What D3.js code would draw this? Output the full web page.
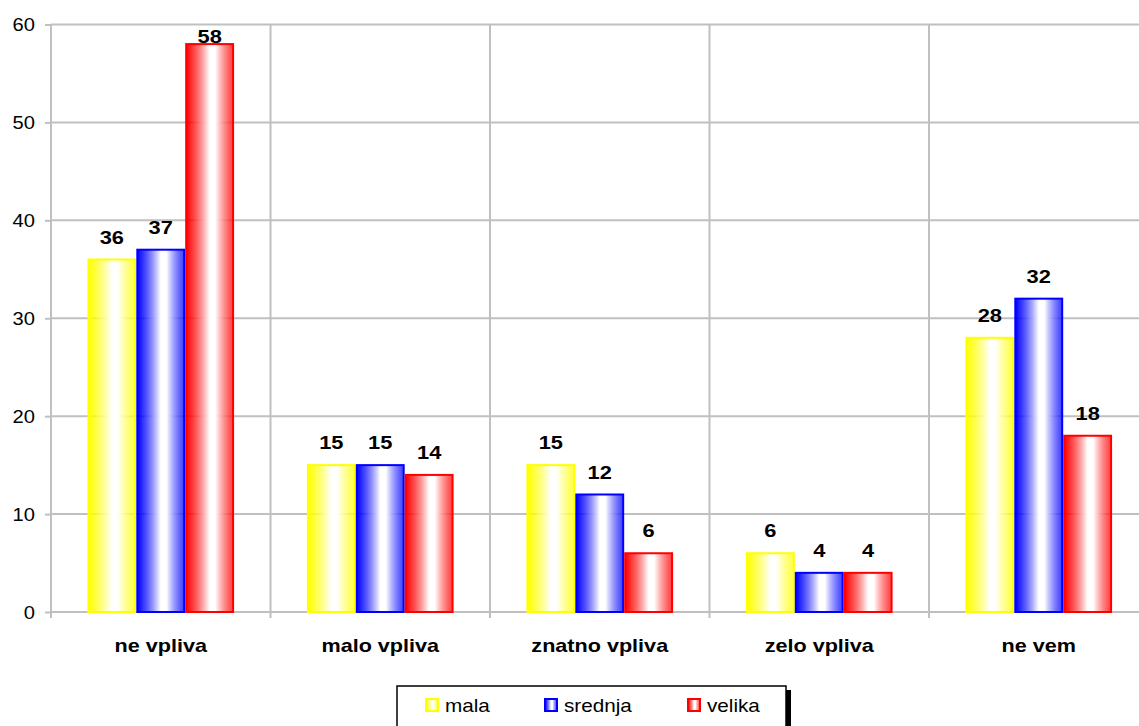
<!DOCTYPE html>
<html><head><meta charset="utf-8">
<script src="https://cdn.jsdelivr.net/npm/d3@7"></script>
<style>
html,body{margin:0;padding:0;background:#fff;}
svg{display:block;font-family:"Liberation Sans",Arial,sans-serif;}
</style></head>
<body>
<svg id="chart" width="1139" height="726"></svg>
<script>
const categories = ["ne vpliva", "malo vpliva", "znatno vpliva", "zelo vpliva", "ne vem"];
const seriesNames = ["mala", "srednja", "velika"];
const mala = [36, 15, 15, 6, 28];
const srednja = [37, 15, 12, 4, 32];
const velika = [58, 14, 6, 4, 18];
const seriesColors = ["#ffff00", "#0000ff", "#ff0000"];
const yTicks = [0, 10, 20, 30, 40, 50, 60];

(function () {
const values = [mala, srednja, velika];
const svg = d3.select("#chart");
const pLeft = 51, pRight = 1148.5, pTop = 24.5, pBottom = 612;
const SX = 1.15;

const x = d3.scaleBand().domain(categories).range([pLeft, pRight]);
const xs = d3.scaleBand().domain(seriesNames).range([0, x.bandwidth()]).paddingOuter(0.745).paddingInner(0);
const y = d3.scaleLinear().domain([0, 60]).range([pBottom, pTop]);

const defs = svg.append("defs");
seriesColors.forEach((c, i) => {
  const g = defs.append("linearGradient").attr("id", "grad" + i).attr("x1", "0%").attr("x2", "100%").attr("y1", "0%").attr("y2", "0%");
  g.append("stop").attr("offset", "0%").attr("stop-color", c).attr("stop-opacity", 1);
  g.append("stop").attr("offset", "12%").attr("stop-color", c).attr("stop-opacity", 0.8);
  g.append("stop").attr("offset", "50%").attr("stop-color", "#ffffff").attr("stop-opacity", 1);
  g.append("stop").attr("offset", "62%").attr("stop-color", "#ffffff").attr("stop-opacity", 1);
  g.append("stop").attr("offset", "100%").attr("stop-color", c).attr("stop-opacity", 0.75);
});

// gridlines
const grid = svg.append("g");
grid.selectAll("line.h").data(yTicks.filter(t => t > 0)).join("line")
  .attr("x1", pLeft).attr("x2", 1139).attr("y1", d => y(d)).attr("y2", d => y(d))
  .attr("stroke", "#c0c0c0").attr("stroke-width", 2);
grid.selectAll("line.v").data(categories.slice(1)).join("line")
  .attr("x1", d => x(d)).attr("x2", d => x(d)).attr("y1", pTop).attr("y2", pBottom + 6)
  .attr("stroke", "#c0c0c0").attr("stroke-width", 2);

// y axis
const yAxis = svg.append("g").attr("transform", `translate(${pLeft},0)`)
  .call(d3.axisLeft(y).tickValues(yTicks).tickSize(6).tickPadding(0).tickFormat(d3.format("d")));
yAxis.select(".domain").attr("stroke", "#c0c0c0").attr("stroke-width", 2).attr("d", `M0,${pTop}V${pBottom + 6}`);
yAxis.selectAll(".tick line").attr("stroke", "#c0c0c0").attr("stroke-width", 2);
yAxis.selectAll(".tick text").attr("font-size", 17.5).attr("fill", "#000")
  .attr("font-family", '"Liberation Sans",Arial,sans-serif')
  .attr("x", 0).attr("dy", null).attr("dominant-baseline", "central")
  .attr("transform", `translate(-16,0) scale(${SX},1)`);

// x axis
const xAxis = svg.append("g").attr("transform", `translate(0,${pBottom})`)
  .call(d3.axisBottom(x).tickSize(0).tickPadding(0));
xAxis.select(".domain").attr("stroke", "#c0c0c0").attr("stroke-width", 2).attr("d", `M${pLeft},0H1139`);
xAxis.selectAll(".tick text").attr("font-size", 18).attr("font-weight", "bold").attr("fill", "#000")
  .attr("font-family", '"Liberation Sans",Arial,sans-serif')
  .attr("y", 0).attr("dy", null)
  .attr("transform", `translate(0,40) scale(1.2,1)`);

// bars
seriesNames.forEach((s, si) => {
  const g = svg.append("g");
  g.selectAll("rect").data(categories).join("rect")
    .attr("x", d => x(d) + xs(s) + 1)
    .attr("width", xs.bandwidth() - 2)
    .attr("y", (d, i) => y(values[si][i]))
    .attr("height", (d, i) => y(0) - y(values[si][i]))
    .attr("fill", `url(#grad${si})`)
    .attr("stroke", seriesColors[si]).attr("stroke-width", 2);
  g.selectAll("text").data(categories).join("text")
    .attr("transform", (d, i) => `translate(${x(d) + xs(s) + xs.bandwidth() / 2},${Math.max(y(values[si][i]) - 16, 42.5)}) scale(${SX},1)`)
    .attr("text-anchor", "middle").attr("font-size", 19).attr("font-weight", "bold").attr("fill", "#000")
    .text((d, i) => values[si][i]);
});

// legend
const lg = svg.append("g");
lg.append("rect").attr("x", 786).attr("y", 690).attr("width", 5).attr("height", 60).attr("fill", "#000");
lg.append("rect").attr("x", 397).attr("y", 686).attr("width", 389).attr("height", 60).attr("fill", "#fff").attr("stroke", "#000").attr("stroke-width", 1.5);
const legX = [425, 544, 687];
seriesNames.forEach((s, i) => {
  lg.append("rect").attr("x", legX[i] + 1).attr("y", 699).attr("width", 12).attr("height", 12)
    .attr("fill", `url(#grad${i})`).attr("stroke", seriesColors[i]).attr("stroke-width", 2);
  lg.append("text").attr("transform", `translate(${legX[i] + 20},712) scale(${SX},1)`)
    .attr("font-size", 18).attr("fill", "#000").text(s);
});
})();
</script>
</body></html>
